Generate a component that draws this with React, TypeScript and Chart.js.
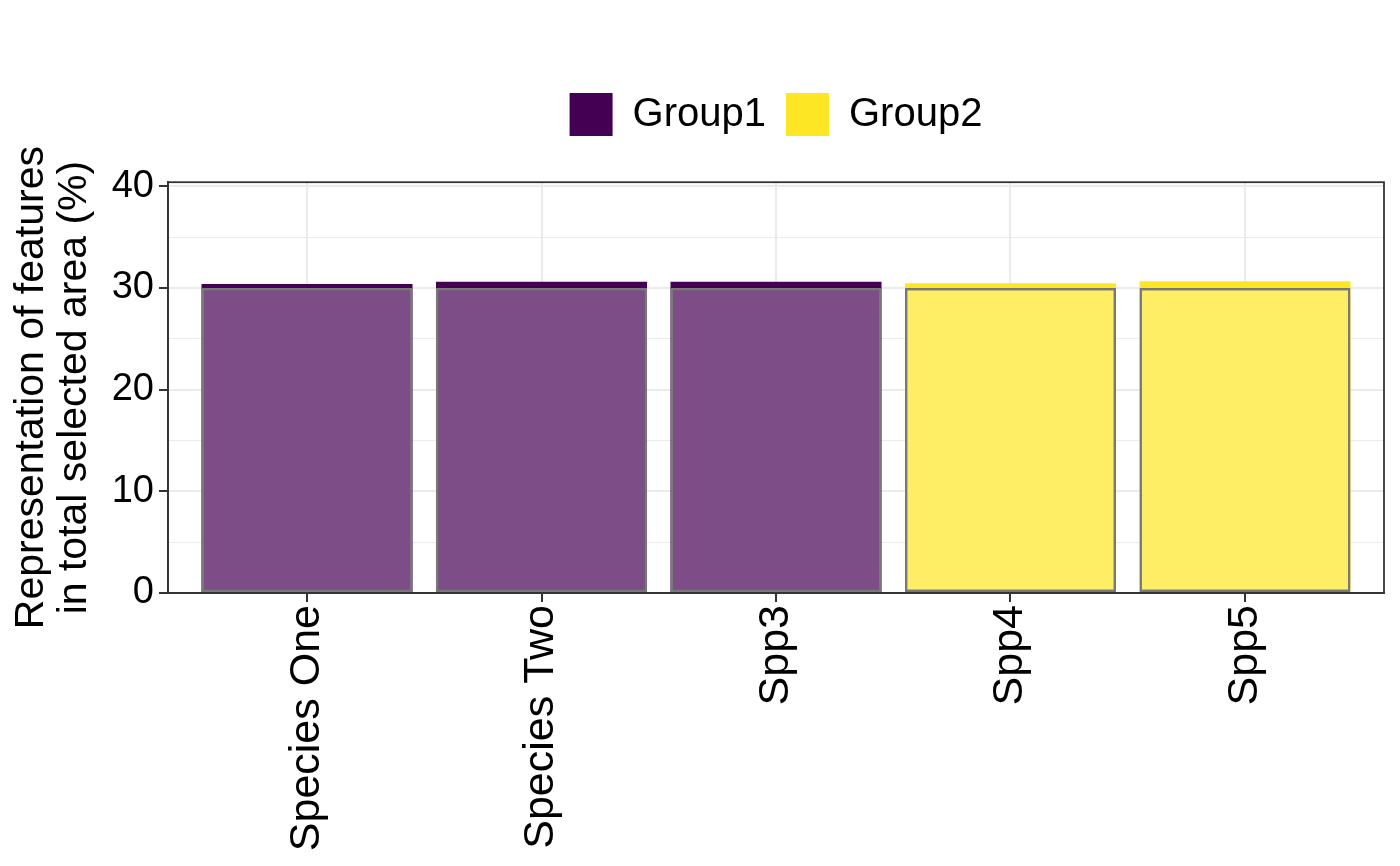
import React, { useEffect, useRef } from "react";
import { Chart, registerables } from "chart.js";

Chart.register(...registerables);

const categories = ["Species One", "Species Two", "Spp3", "Spp4", "Spp5"];
const group1Values = [30.4, 30.6, 30.6, null, null];
const group2Values = [null, null, null, 30.45, 30.65];
const targetValues = [30, 30, 30, 30, 30];
const yTicks = [0, 5, 10, 15, 20, 25, 30, 35, 40];
const FONT = "'Liberation Sans', Arial, Helvetica, sans-serif";

const toPoints = (arr: (number | null)[]) =>
  arr.map((v, i) => ({ x: i, y: v })).filter((p) => p.y !== null);

const panelBorder = {
  id: "panelBorder",
  afterDraw(chart: any) {
    const { ctx, chartArea } = chart;
    ctx.save();
    ctx.strokeStyle = "#333333";
    ctx.lineWidth = 1.8;
    ctx.strokeRect(chartArea.left, chartArea.top, chartArea.right - chartArea.left, chartArea.bottom - chartArea.top);
    ctx.restore();
  },
};

export default function App() {
  const ref = useRef<HTMLCanvasElement>(null);
  useEffect(() => {
    document.body.style.margin = "0";
    const chart = new Chart(ref.current as HTMLCanvasElement, {
      type: "bar",
      data: {
        datasets: [
          {
            label: "Group1",
            data: toPoints(group1Values) as any,
            backgroundColor: "#440154",
            borderWidth: 0,
            grouped: false,
            order: 2,
          } as any,
          {
            label: "Group2",
            data: toPoints(group2Values) as any,
            backgroundColor: "#FDE725",
            borderWidth: 0,
            grouped: false,
            order: 2,
          } as any,
          {
            label: "target",
            data: toPoints(targetValues) as any,
            backgroundColor: "rgba(255,255,255,0.3)",
            borderColor: "#787878",
            borderWidth: 2.5,
            borderSkipped: false,
            grouped: false,
            order: 0,
          } as any,
        ],
      },
      options: {
        animation: false,
        responsive: true,
        maintainAspectRatio: false,
        layout: { padding: { top: 73, right: 16, bottom: 0, left: 0 } },
        datasets: { bar: { barPercentage: 0.9, categoryPercentage: 1 } },
        plugins: {
          tooltip: { enabled: false },
          legend: {
            display: true,
            position: "top",
            fullSize: false,
            weight: 3000,
            labels: {
              boxWidth: 43,
              boxHeight: 43,
              padding: 20,
              color: "#000000",
              font: { family: FONT, size: 40 },
              filter: (item: any) => item.text !== "target",
            },
          } as any,
          title: {
            display: true,
            text: " ",
            font: { size: 1 },
            padding: { top: 0, bottom: 35 },
          },
        },
        scales: {
          x: {
            type: "linear",
            offset: false,
            min: -0.5928,
            max: 4.5928,
            afterBuildTicks: (scale: any) => {
              scale.ticks = categories.map((_, i) => ({ value: i }));
            },
            afterFit: (scale: any) => {
              scale.height = 273;
            },
            ticks: {
              autoSkip: false,
              minRotation: 90,
              maxRotation: 90,
              padding: 3,
              color: "#000000",
              font: { family: FONT, size: 43 },
              callback: (v: any) => categories[Math.round(Number(v))] ?? "",
            },
            grid: {
              offset: false,
              color: "#EBEBEB",
              lineWidth: 2,
              tickColor: "#333333",
              tickLength: 9,
            },
            border: { display: true, color: "#333333", width: 1.8 },
          },
          y: {
            type: "linear",
            min: 0,
            max: 40.4,
            afterBuildTicks: (scale: any) => {
              scale.ticks = yTicks.map((v) => ({ value: v }));
            },
            afterFit: (scale: any) => {
              scale.width = 168;
            },
            ticks: {
              padding: 5,
              color: "#000000",
              font: { family: FONT, size: 38 },
              callback: (v: any) => (Number(v) % 10 === 0 ? String(v) : ""),
            },
            grid: {
              color: "#EBEBEB",
              lineWidth: (c: any) => (c.tick && c.tick.value % 10 === 0 ? 2 : 1),
              tickColor: (c: any) => (c.tick && c.tick.value % 10 === 0 ? "#333333" : "rgba(0,0,0,0)"),
              tickLength: 9,
            },
            border: { display: true, color: "#333333", width: 1.8 },
            title: {
              display: true,
              text: ["Representation of features", "in total selected area (%)"],
              color: "#000000",
              font: { family: FONT, size: 41, lineHeight: 1.05 },
              padding: { top: 10, bottom: 0 },
            },
          },
        },
      } as any,
      plugins: [panelBorder],
    });
    return () => chart.destroy();
  }, []);
  return (
    <div style={{ width: 1400, height: 866, position: "relative" }}>
      <canvas ref={ref} />
    </div>
  );
}
